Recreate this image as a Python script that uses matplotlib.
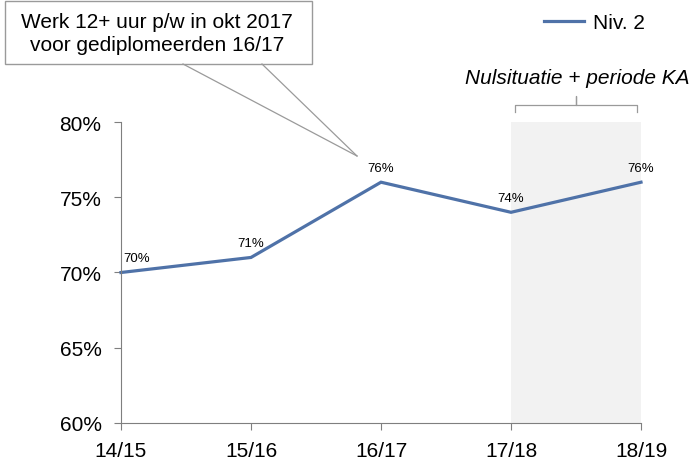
import matplotlib.pyplot as plt
from matplotlib.lines import Line2D
from matplotlib.patches import Rectangle

years = ["14/15", "15/16", "16/17", "17/18", "18/19"]
niv2 = [70, 71, 76, 74, 76]
yticks = [60, 65, 70, 75, 80]

plt.rcParams["font.family"] = ["Liberation Sans", "DejaVu Sans"]

fig = plt.figure(figsize=(6.89, 4.64), dpi=100)
ax = fig.add_axes([121 / 689, 1 - 424 / 464, 520 / 689, 301 / 464])

x = list(range(len(years)))
ax.axvspan(3, 4, color="#f2f2f2", zorder=0, lw=0)
ax.plot(x, niv2, color="#4f72a8", lw=2.3, solid_joinstyle="miter", label="Niv. 2", clip_on=False)

for i, v in enumerate(niv2):
    dx = 11 if i == 0 else 0
    ax.annotate(f"{v}%", (i, v), xytext=(dx, 6), textcoords="offset points",
                ha="center", va="bottom", fontsize=9.5)

ax.set_xlim(0, 4)
ax.set_ylim(60, 80)
ax.set_xticks(x)
ax.set_xticklabels(years, fontsize=15)
ax.set_yticks(yticks)
ax.set_yticklabels([f"{t}%" for t in yticks], fontsize=15)
for s in ["top", "right"]:
    ax.spines[s].set_visible(False)
for s in ["left", "bottom"]:
    ax.spines[s].set_color("#7f7f7f")
ax.tick_params(colors="#7f7f7f", labelcolor="black", length=5)
ax.tick_params(axis="x", pad=8)
ax.tick_params(axis="y", pad=9)

ax.legend(loc="upper left", bbox_to_anchor=(538 / 689, 1 - 8 / 464), bbox_transform=fig.transFigure,
          frameon=False, fontsize=15, handlelength=1.9, handletextpad=0.45,
          borderaxespad=0, borderpad=0.3)

# callout box
fig.add_artist(Rectangle((5 / 689, 1 - 65 / 464), 307 / 689, 63 / 464, transform=fig.transFigure,
                         fc="white", ec="#9a9a9a", lw=1))
fig.text(157 / 689, 1 - 34 / 464, "Werk 12+ uur p/w in okt 2017\nvoor gediplomeerden 16/17",
         ha="center", va="center", fontsize=15, linespacing=1.3)
tip = (357 / 689, 1 - 157 / 464)
for bx in (183, 262):
    fig.add_artist(Line2D([bx / 689, tip[0]], [1 - 65 / 464, tip[1]], color="#9a9a9a", lw=0.9))

# bracket over shaded period
fig.text(577 / 689, 1 - 79 / 464, "Nulsituatie + periode KA", ha="center", va="center",
         fontsize=15, style="italic")
bxs = [515 / 689, 515 / 689, 576 / 689, 576 / 689, 576 / 689, 637 / 689, 637 / 689]
bys = [1 - 113 / 464, 1 - 106 / 464, 1 - 106 / 464, 1 - 97 / 464, 1 - 106 / 464,
       1 - 106 / 464, 1 - 113 / 464]
fig.add_artist(Line2D(bxs, bys, color="#9a9a9a", lw=0.9))

fig.savefig("out.png", dpi=100)
